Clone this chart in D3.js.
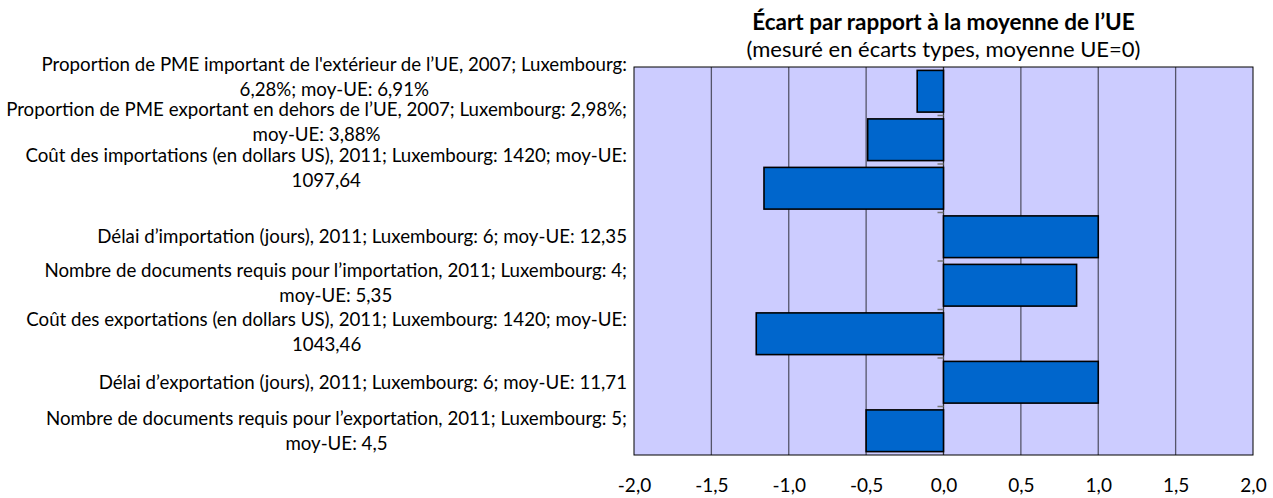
<!DOCTYPE html>
<html>
<head>
<meta charset="utf-8">
<script src="https://cdn.jsdelivr.net/npm/d3@7"></script>
<style>
  body { margin: 0; background: #fff; }
  text { font-family: Lato, "Open Sans", sans-serif; fill: #000; }
</style>
</head>
<body>
<svg id="ch" width="1273" height="498"></svg>
<script>
// categories (each label split in the lines shown on the chart)
var categories = [
  ["Proportion de PME important de l'extérieur de l\u2019UE, 2007; Luxembourg:", "6,28%; moy-UE: 6,91%"],
  ["Proportion de PME exportant en dehors de l\u2019UE, 2007; Luxembourg: 2,98%;", "moy-UE: 3,88%"],
  ["Coût des importations (en dollars US), 2011; Luxembourg: 1420; moy-UE:", "1097,64"],
  ["Délai d\u2019importation (jours), 2011; Luxembourg: 6; moy-UE: 12,35"],
  ["Nombre de documents requis pour l\u2019importation, 2011; Luxembourg: 4;", "moy-UE: 5,35"],
  ["Coût des exportations (en dollars US), 2011; Luxembourg: 1420; moy-UE:", "1043,46"],
  ["Délai d\u2019exportation (jours), 2011; Luxembourg: 6; moy-UE: 11,71"],
  ["Nombre de documents requis pour l\u2019exportation, 2011; Luxembourg: 5;", "moy-UE: 4,5"]
];
// écart en écarts types
var values = [-0.17, -0.49, -1.16, 1.0, 0.86, -1.21, 1.0, -0.5];
var tickValues = [-2, -1.5, -1, -0.5, 0, 0.5, 1, 1.5, 2];

var title = "Écart par rapport à la moyenne de l\u2019UE";
var subtitle = "(mesuré en écarts types, moyenne UE=0)";

var margin = {top: 67, right: 20, bottom: 43, left: 634},
    width  = 1253 - margin.left,
    height = 455 - margin.top;

var svg = d3.select("#ch");
var g = svg.append("g").attr("transform", "translate(" + margin.left + "," + margin.top + ")");

var x = d3.scaleLinear().domain([-2, 2]).range([0, width]);
var y = d3.scaleBand()
    .domain(d3.range(categories.length))
    .range([0, height])
    .paddingInner(0.14)
    .paddingOuter(0.07);
var yb = d3.scaleBand().domain(d3.range(categories.length)).range([0, height]);

// fond
g.append("rect")
    .attr("width", width).attr("height", height)
    .style("fill", "#ccccff");

// grille
g.selectAll(".grid")
    .data(tickValues.filter(function (d) { return d !== -2 && d !== 2 && d !== 0; }))
    .enter().append("line")
    .attr("class", "grid")
    .attr("x1", function (d) { return x(d); }).attr("x2", function (d) { return x(d); })
    .attr("y1", 0).attr("y2", height)
    .style("stroke", "#55556a").style("stroke-width", 1.3);

// axe zéro
g.append("line")
    .attr("x1", x(0)).attr("x2", x(0)).attr("y1", 0).attr("y2", height)
    .style("stroke", "#333").style("stroke-width", 1.3);
g.selectAll(".ytick")
    .data(d3.range(1, categories.length))
    .enter().append("line")
    .attr("x1", x(0) - 6).attr("x2", x(0))
    .attr("y1", function (d) { return yb(d); }).attr("y2", function (d) { return yb(d); })
    .style("stroke", "#777").style("stroke-width", 1.5);

// barres
g.selectAll(".bar")
    .data(values)
    .enter().append("rect")
    .attr("class", "bar")
    .attr("x", function (d) { return x(Math.min(0, d)); })
    .attr("width", function (d) { return Math.abs(x(d) - x(0)); })
    .attr("y", function (d, i) { return y(i); })
    .attr("height", y.bandwidth())
    .style("fill", "#0066cc")
    .style("stroke", "#000")
    .style("stroke-width", 1.6);

// cadre
g.append("rect")
    .attr("width", width).attr("height", height)
    .style("fill", "none").style("stroke", "#000").style("stroke-width", 1);

// étiquettes de l'axe X
var xAxis = d3.axisBottom(x)
    .tickValues(tickValues)
    .tickSize(0)
    .tickFormat(function (d) { return d3.format(".1f")(d).replace(".", ",").replace("\u2212", "-"); });
var ax = g.append("g").attr("transform", "translate(0," + height + ")").call(xAxis);
ax.select(".domain").remove();
ax.selectAll("text")
    .attr("y", 30).attr("dy", "0.35em")
    .style("font-family", "Lato, 'Open Sans', sans-serif")
    .style("font-size", "19px").style("fill", "#000");

// étiquettes des catégories
// Excel remonte un peu les premières étiquettes sur deux lignes
var shift = [-14, -18, -20, 0, -2, -2, 0, 0];
var labelRight = -7, lineH = 25, fs = "18.7px";
categories.forEach(function (lines, i) {
  var cy = yb(i) + yb.bandwidth() / 2 + shift[i];
  var t1 = g.append("text")
      .attr("x", labelRight)
      .attr("y", cy - (lines.length - 1) * lineH / 2)
      .attr("dy", "0.35em")
      .attr("text-anchor", "end")
      .style("font-size", fs)
      .text(lines[0]);
  if (lines.length > 1) {
    var w = t1.node().getComputedTextLength();
    g.append("text")
        .attr("x", labelRight - w / 2)
        .attr("y", cy + lineH / 2)
        .attr("dy", "0.35em")
        .attr("text-anchor", "middle")
        .style("font-size", fs)
        .text(lines[1]);
  }
});

// titre
g.append("text")
    .attr("x", x(0)).attr("y", -45)
    .attr("dy", "0.35em")
    .attr("text-anchor", "middle")
    .style("font-size", "22.5px").style("font-weight", "bold")
    .text(title);
g.append("text")
    .attr("x", x(0)).attr("y", -18)
    .attr("dy", "0.35em")
    .attr("text-anchor", "middle")
    .style("font-size", "22px")
    .text(subtitle);
</script>
</body>
</html>
